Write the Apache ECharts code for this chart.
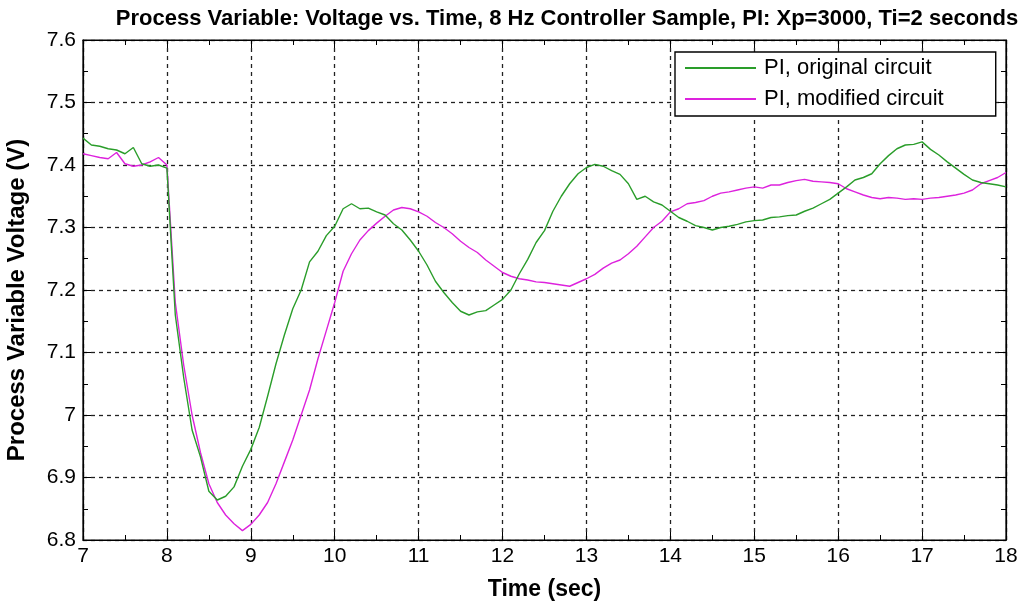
<!DOCTYPE html>
<html>
<head>
<meta charset="utf-8">
<script src="https://cdn.jsdelivr.net/npm/echarts@6/dist/echarts.min.js"></script>
<style>
  html, body { margin: 0; padding: 0; background: #fff; }
  #chart { width: 1023px; height: 602px; }
</style>
</head>
<body>
<div id="chart"></div>
<script>
// Sample times (sec), 0.1 s spacing from 7 to 18
const timeSec = [];
for (let i = 0; i <= 110; i++) timeSec.push(+(7 + i * 0.1).toFixed(1));

// PI controller, original circuit (V)
const originalVolts = [
  7.443, 7.432, 7.430, 7.426, 7.424, 7.418, 7.428, 7.402, 7.398, 7.400,
  7.395, 7.160, 7.060, 6.976, 6.933, 6.878, 6.864, 6.870, 6.885, 6.918,
  6.945, 6.980, 7.030, 7.082, 7.128, 7.170, 7.200, 7.245, 7.262, 7.287,
  7.302, 7.330, 7.338, 7.330, 7.331, 7.325, 7.320, 7.306, 7.296, 7.280,
  7.262, 7.240, 7.214, 7.196, 7.180, 7.166, 7.160, 7.165, 7.167, 7.176,
  7.185, 7.200, 7.226, 7.249, 7.276, 7.295, 7.326, 7.350, 7.370, 7.386,
  7.396, 7.401, 7.398, 7.391, 7.385, 7.370, 7.345, 7.350, 7.341, 7.336,
  7.326, 7.316, 7.310, 7.303, 7.300, 7.296, 7.300, 7.302, 7.305, 7.309,
  7.311, 7.312, 7.316, 7.317, 7.319, 7.320, 7.326, 7.331, 7.338, 7.345,
  7.355, 7.365, 7.376, 7.380, 7.386, 7.402, 7.415, 7.426, 7.432, 7.433,
  7.437, 7.425, 7.416, 7.405, 7.395, 7.385, 7.376, 7.372, 7.370, 7.368,
  7.365
];

// PI controller, modified circuit (V)
const modifiedVolts = [
  7.418, 7.415, 7.412, 7.410, 7.420, 7.402, 7.398, 7.400, 7.405, 7.412,
  7.400, 7.180, 7.080, 7.000, 6.940, 6.890, 6.860, 6.840, 6.826, 6.815,
  6.825, 6.840, 6.860, 6.890, 6.925, 6.960, 7.000, 7.040, 7.090, 7.135,
  7.180, 7.230, 7.258, 7.280, 7.295, 7.307, 7.318, 7.328, 7.332, 7.330,
  7.325, 7.318, 7.308, 7.300, 7.290, 7.278, 7.268, 7.260, 7.248, 7.238,
  7.228, 7.222, 7.218, 7.216, 7.213, 7.212, 7.210, 7.208, 7.206, 7.212,
  7.218, 7.225, 7.235, 7.243, 7.248, 7.258, 7.270, 7.285, 7.300, 7.310,
  7.325, 7.330, 7.338, 7.340, 7.343, 7.350, 7.355, 7.357, 7.360, 7.363,
  7.365, 7.363, 7.368, 7.368, 7.372, 7.375, 7.377, 7.374, 7.373, 7.372,
  7.370, 7.362, 7.357, 7.352, 7.348, 7.346, 7.348, 7.347, 7.345, 7.346,
  7.345, 7.347, 7.348, 7.350, 7.352, 7.355, 7.360, 7.370, 7.375, 7.380,
  7.388
];

const seriesNames = ['PI, original circuit', 'PI, modified circuit'];
const seriesColors = ['#2a9d2a', '#dd22dd'];

const toPairs = vals => timeSec.map((t, i) => [t, vals[i]]);

const fontFam = 'Liberation Sans, Arial, sans-serif';
const gridDash = { color: '#222', width: 1.3, type: [4, 4] };

const chart = echarts.init(document.getElementById('chart'), null, { renderer: 'canvas' });
chart.setOption({
  backgroundColor: '#fff',
  animation: false,
  title: {
    text: 'Process Variable: Voltage vs. Time, 8 Hz Controller Sample, PI: Xp=3000, Ti=2 seconds',
    left: 562, textAlign: 'center', top: 3,
    textStyle: { fontFamily: fontFam, fontWeight: 'bold', fontSize: 22, color: '#000' }
  },
  legend: {
    orient: 'vertical',
    left: 675, top: 52,
    padding: [5, 52, 6, 10],
    itemGap: 9,
    itemWidth: 71, itemHeight: 2,
    icon: 'rect',
    borderColor: '#000', borderWidth: 1.4,
    backgroundColor: '#fff',
    textStyle: { fontFamily: fontFam, fontSize: 22, color: '#000', padding: [0, 0, 0, 3] },
    data: seriesNames
  },
  grid: {
    left: 83, right: 17, top: 40, bottom: 62,
    outerBoundsMode: 'none',
    show: true, borderColor: '#000', borderWidth: 1.2
  },
  xAxis: [{
    type: 'value', min: 7, max: 18, interval: 1,
    name: 'Time (sec)', nameLocation: 'middle', nameGap: 38,
    nameTextStyle: { fontFamily: fontFam, fontWeight: 'bold', fontSize: 23, color: '#000' },
    axisLine: { lineStyle: { color: '#000', width: 1.2 } },
    axisTick: { inside: true, length: 8, lineStyle: { color: '#000' } },
    minorTick: { show: true, splitNumber: 2, length: 5, lineStyle: { color: '#000' } },
    axisLabel: { fontFamily: fontFam, fontSize: 21, color: '#000', margin: 6 },
    splitLine: { show: true, lineStyle: gridDash }
  }, {
    type: 'value', min: 7, max: 18, interval: 1, position: 'top',
    axisLine: { lineStyle: { color: '#000', width: 1.2 } },
    axisTick: { inside: true, length: 8, lineStyle: { color: '#000' } },
    minorTick: { show: true, splitNumber: 2, length: 5, lineStyle: { color: '#000' } },
    axisLabel: { show: false },
    splitLine: { show: false }
  }],
  yAxis: [{
    type: 'value', min: 6.8, max: 7.6, interval: 0.1,
    name: 'Process Variable Voltage (V)', nameLocation: 'middle', nameGap: 54,
    nameTextStyle: {
      fontFamily: fontFam, fontWeight: 'bold', fontSize: 24, color: '#000',
      padding: [0, 20, 0, 0]
    },
    axisLine: { lineStyle: { color: '#000', width: 1.2 } },
    axisTick: { inside: true, length: 8, lineStyle: { color: '#000' } },
    minorTick: { show: true, splitNumber: 2, length: 5, lineStyle: { color: '#000' } },
    axisLabel: { fontFamily: fontFam, fontSize: 21, color: '#000', margin: 7 },
    splitLine: { show: true, lineStyle: gridDash }
  }, {
    type: 'value', min: 6.8, max: 7.6, interval: 0.1, position: 'right',
    axisLine: { lineStyle: { color: '#000', width: 1.2 } },
    axisTick: { inside: true, length: 8, lineStyle: { color: '#000' } },
    minorTick: { show: true, splitNumber: 2, length: 5, lineStyle: { color: '#000' } },
    axisLabel: { show: false },
    splitLine: { show: false }
  }],
  series: [
    {
      name: seriesNames[0], type: 'line', data: toPairs(originalVolts),
      showSymbol: false, symbol: 'none', color: seriesColors[0],
      lineStyle: { width: 1.4, color: seriesColors[0] }, z: 3
    },
    {
      name: seriesNames[1], type: 'line', data: toPairs(modifiedVolts),
      showSymbol: false, symbol: 'none', color: seriesColors[1],
      lineStyle: { width: 1.4, color: seriesColors[1] }, z: 2
    }
  ]
});
</script>
</body>
</html>
